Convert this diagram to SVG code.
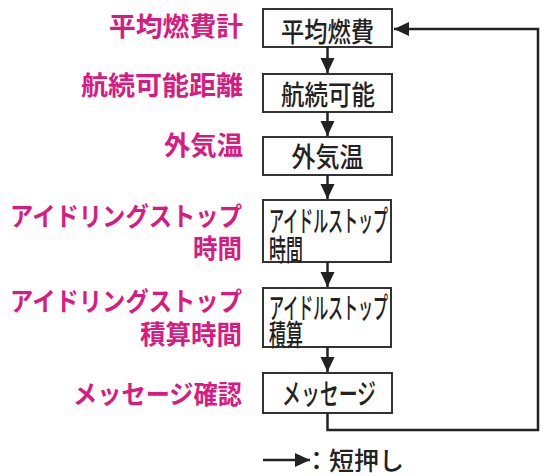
<svg xmlns="http://www.w3.org/2000/svg" width="543" height="476" viewBox="0 0 543 476">
<style>
.lbl{font-family:"Noto Sans CJK JP","Liberation Sans",sans-serif;font-size:26px;font-weight:bold;fill:#d91a7f;text-anchor:end}
.box rect{fill:#fff;stroke:#333;stroke-width:2}
.bt{font-family:"Noto Sans CJK JP","Liberation Sans",sans-serif;font-size:27px;font-weight:500;fill:#222}
.bt2{font-size:29px}
.c{text-anchor:middle}
.conn{fill:none;stroke:#222;stroke-width:2.5}
.leg{font-family:"Noto Sans CJK JP","Liberation Sans",sans-serif;font-size:25px;font-weight:500;fill:#222}
</style>
<defs>
<marker id="ah" markerUnits="userSpaceOnUse" markerWidth="16" markerHeight="16" viewBox="0 0 16 16" refX="15" refY="8" orient="auto">
<path d="M0,1 L15,8 L0,15 Z" fill="#222"/>
</marker>
</defs>
<rect width="543" height="476" fill="#fff"/>
<g id="labels">
<text class="lbl" x="243" y="36" textLength="134" lengthAdjust="spacingAndGlyphs">平均燃費計</text>
<text class="lbl" x="243" y="95" textLength="162" lengthAdjust="spacingAndGlyphs">航続可能距離</text>
<text class="lbl" x="243" y="155" textLength="79" lengthAdjust="spacingAndGlyphs">外気温</text>
<text class="lbl" x="242" y="226" textLength="232" lengthAdjust="spacingAndGlyphs">アイドリングストップ</text>
<text class="lbl" x="242" y="258" textLength="49" lengthAdjust="spacingAndGlyphs">時間</text>
<text class="lbl" x="242" y="311" textLength="232" lengthAdjust="spacingAndGlyphs">アイドリングストップ</text>
<text class="lbl" x="242" y="344" textLength="102" lengthAdjust="spacingAndGlyphs">積算時間</text>
<text class="lbl" x="242" y="404" textLength="169" lengthAdjust="spacingAndGlyphs">メッセージ確認</text>
</g>
<g id="n1" class="box"><rect x="263" y="9" width="129" height="38"/><text class="bt c" x="327.5" y="42" textLength="93" lengthAdjust="spacingAndGlyphs">平均燃費</text></g>
<g id="n2" class="box"><rect x="263" y="74" width="129" height="38"/><text class="bt c" x="328" y="105" textLength="94" lengthAdjust="spacingAndGlyphs">航続可能</text></g>
<g id="n3" class="box"><rect x="263" y="137" width="129" height="38"/><text class="bt c" x="327.5" y="167" textLength="72" lengthAdjust="spacingAndGlyphs">外気温</text></g>
<g id="n4" class="box"><rect x="263" y="200" width="128" height="62"/><text class="bt bt2" x="269" y="232" textLength="119" lengthAdjust="spacingAndGlyphs">アイドルストップ</text><text class="bt bt2" x="269" y="261" textLength="34" lengthAdjust="spacingAndGlyphs">時間</text></g>
<g id="n5" class="box"><rect x="263" y="288" width="128" height="59"/><text class="bt bt2" x="269" y="319" textLength="119" lengthAdjust="spacingAndGlyphs">アイドルストップ</text><text class="bt bt2" x="269" y="346" textLength="34" lengthAdjust="spacingAndGlyphs">積算</text></g>
<g id="n6" class="box"><rect x="263" y="373" width="129" height="40"/><text class="bt bt2" x="329" y="405" text-anchor="middle" textLength="94" lengthAdjust="spacingAndGlyphs">メッセージ</text></g>
<g id="connectors">
<line class="conn" x1="327.5" y1="47" x2="327.5" y2="73" marker-end="url(#ah)"/>
<line class="conn" x1="327.5" y1="112" x2="327.5" y2="136" marker-end="url(#ah)"/>
<line class="conn" x1="327.5" y1="175" x2="327.5" y2="199" marker-end="url(#ah)"/>
<line class="conn" x1="327.5" y1="262" x2="327.5" y2="287" marker-end="url(#ah)"/>
<line class="conn" x1="327.5" y1="347" x2="327.5" y2="372" marker-end="url(#ah)"/>
<polyline class="conn" points="327.5,413 327.5,430 538,430 538,29 394,29" marker-end="url(#ah)"/>
</g>
<g id="legend">
<line class="conn" x1="263" y1="460" x2="310" y2="460" marker-end="url(#ah)"/>
<text class="leg" x="304" y="470">：短押し</text>
</g>
</svg>
